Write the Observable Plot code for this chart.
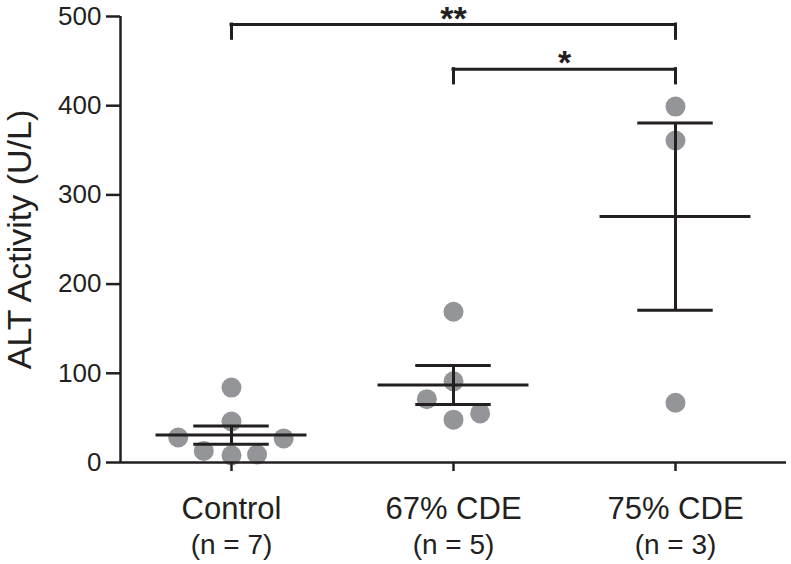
<!DOCTYPE html>
<html><head><meta charset="utf-8">
<script src="https://cdn.jsdelivr.net/npm/d3@7"></script>
<script src="https://cdn.jsdelivr.net/npm/@observablehq/plot@0.6"></script>
<style>body{margin:0;background:#fff} svg{display:block}</style>
</head><body><div id="chart"></div>
<script>
const groups = ["Control", "67% CDE", "75% CDE"];
const nLabels = ["(n = 7)", "(n = 5)", "(n = 3)"];
const controlValues = [84, 46, 28, 27, 13, 8, 9];
const cde67Values = [169, 91, 71, 48, 55];
const cde75Values = [399, 361, 67];
// horizontal scatter offsets (category units) as seen in the figure
const controlJitter = [0, 0, -0.24, 0.235, -0.125, 0, 0.115];
const cde67Jitter = [0, 0, -0.12, 0, 0.12];
const cde75Jitter = [0, 0, 0];
const yTicks = [0, 100, 200, 300, 400, 500];
const comparisons = [
  {a: 0, b: 2, y: 491, label: "**"},
  {a: 1, b: 2, y: 441, label: "*"}
];

const valueSets = [controlValues, cde67Values, cde75Values];
const jitterSets = [controlJitter, cde67Jitter, cde75Jitter];
const points = valueSets.flatMap((vals, i) => vals.map((v, k) => ({i, value: v, x: i + jitterSets[i][k]})));
const stats = valueSets.map((vals, i) => {
  const m = d3.mean(vals), s = d3.deviation(vals) / Math.sqrt(vals.length);
  return {i, mean: m, lo: m - s, hi: m + s};
});
const labels = groups.map((g, i) => ({i, g, n: nLabels[i]}));
const ink = "#231f20";
const drop = 16;

const chart = Plot.plot({
  width: 791, height: 564,
  marginLeft: 120, marginRight: 5, marginTop: 16, marginBottom: 102,
  style: {fontFamily: "'Liberation Sans', Arial, sans-serif", color: ink, background: "#fff"},
  x: {type: "linear", domain: [-0.5, 2.5], axis: null},
  y: {domain: [0, 500], axis: null},
  marks: [
    Plot.dot(points, {x: "x", y: "value", r: 10, fill: "#939598"}),
    Plot.ruleY(stats, {y: "mean", x1: d => d.i - 0.34, x2: d => d.i + 0.34, stroke: ink, strokeWidth: 3}),
    Plot.ruleY(stats, {y: "hi", x1: d => d.i - 0.17, x2: d => d.i + 0.17, stroke: ink, strokeWidth: 3}),
    Plot.ruleY(stats, {y: "lo", x1: d => d.i - 0.17, x2: d => d.i + 0.17, stroke: ink, strokeWidth: 3}),
    Plot.ruleX(stats, {x: "i", y1: "lo", y2: "hi", stroke: ink, strokeWidth: 3}),
    Plot.ruleY([0], {stroke: ink, strokeWidth: 2.5}),
    Plot.ruleX([-0.5], {stroke: ink, strokeWidth: 2.5}),
    Plot.axisY({ticks: yTicks, tickSize: 14, tickPadding: 5, fontSize: 26, label: null, stroke: ink, strokeWidth: 2.5, fill: ink}),
    Plot.axisY({ticks: [], label: "ALT Activity (U/L)", labelAnchor: "center", labelArrow: "none", labelOffset: 114, fontSize: 34, fill: ink}),
    Plot.axisX({ticks: [0, 1, 2], tickSize: 9, tickFormat: () => "", label: null, stroke: ink, strokeWidth: 2.5}),
    Plot.text(labels, {x: "i", text: "g", frameAnchor: "bottom", lineAnchor: "bottom", dy: 56, fontSize: 31, fill: ink}),
    Plot.text(labels, {x: "i", text: "n", frameAnchor: "bottom", lineAnchor: "bottom", dy: 91, fontSize: 28, fill: ink}),
    Plot.ruleY(comparisons, {y: "y", x1: "a", x2: "b", stroke: ink, strokeWidth: 3, strokeLinecap: "square"}),
    Plot.ruleX(comparisons.flatMap(c => [{x: c.a, y: c.y}, {x: c.b, y: c.y}]), {x: "x", y1: d => d.y - drop, y2: "y", stroke: ink, strokeWidth: 3, strokeLinecap: "square"}),
    Plot.text(comparisons, {x: d => (d.a + d.b) / 2, y: "y", text: "label", fontSize: 34, fontWeight: "bold", lineAnchor: "bottom", dy: 5, fill: ink})
  ]
});
document.getElementById("chart").appendChild(chart);
</script>
</body></html>
